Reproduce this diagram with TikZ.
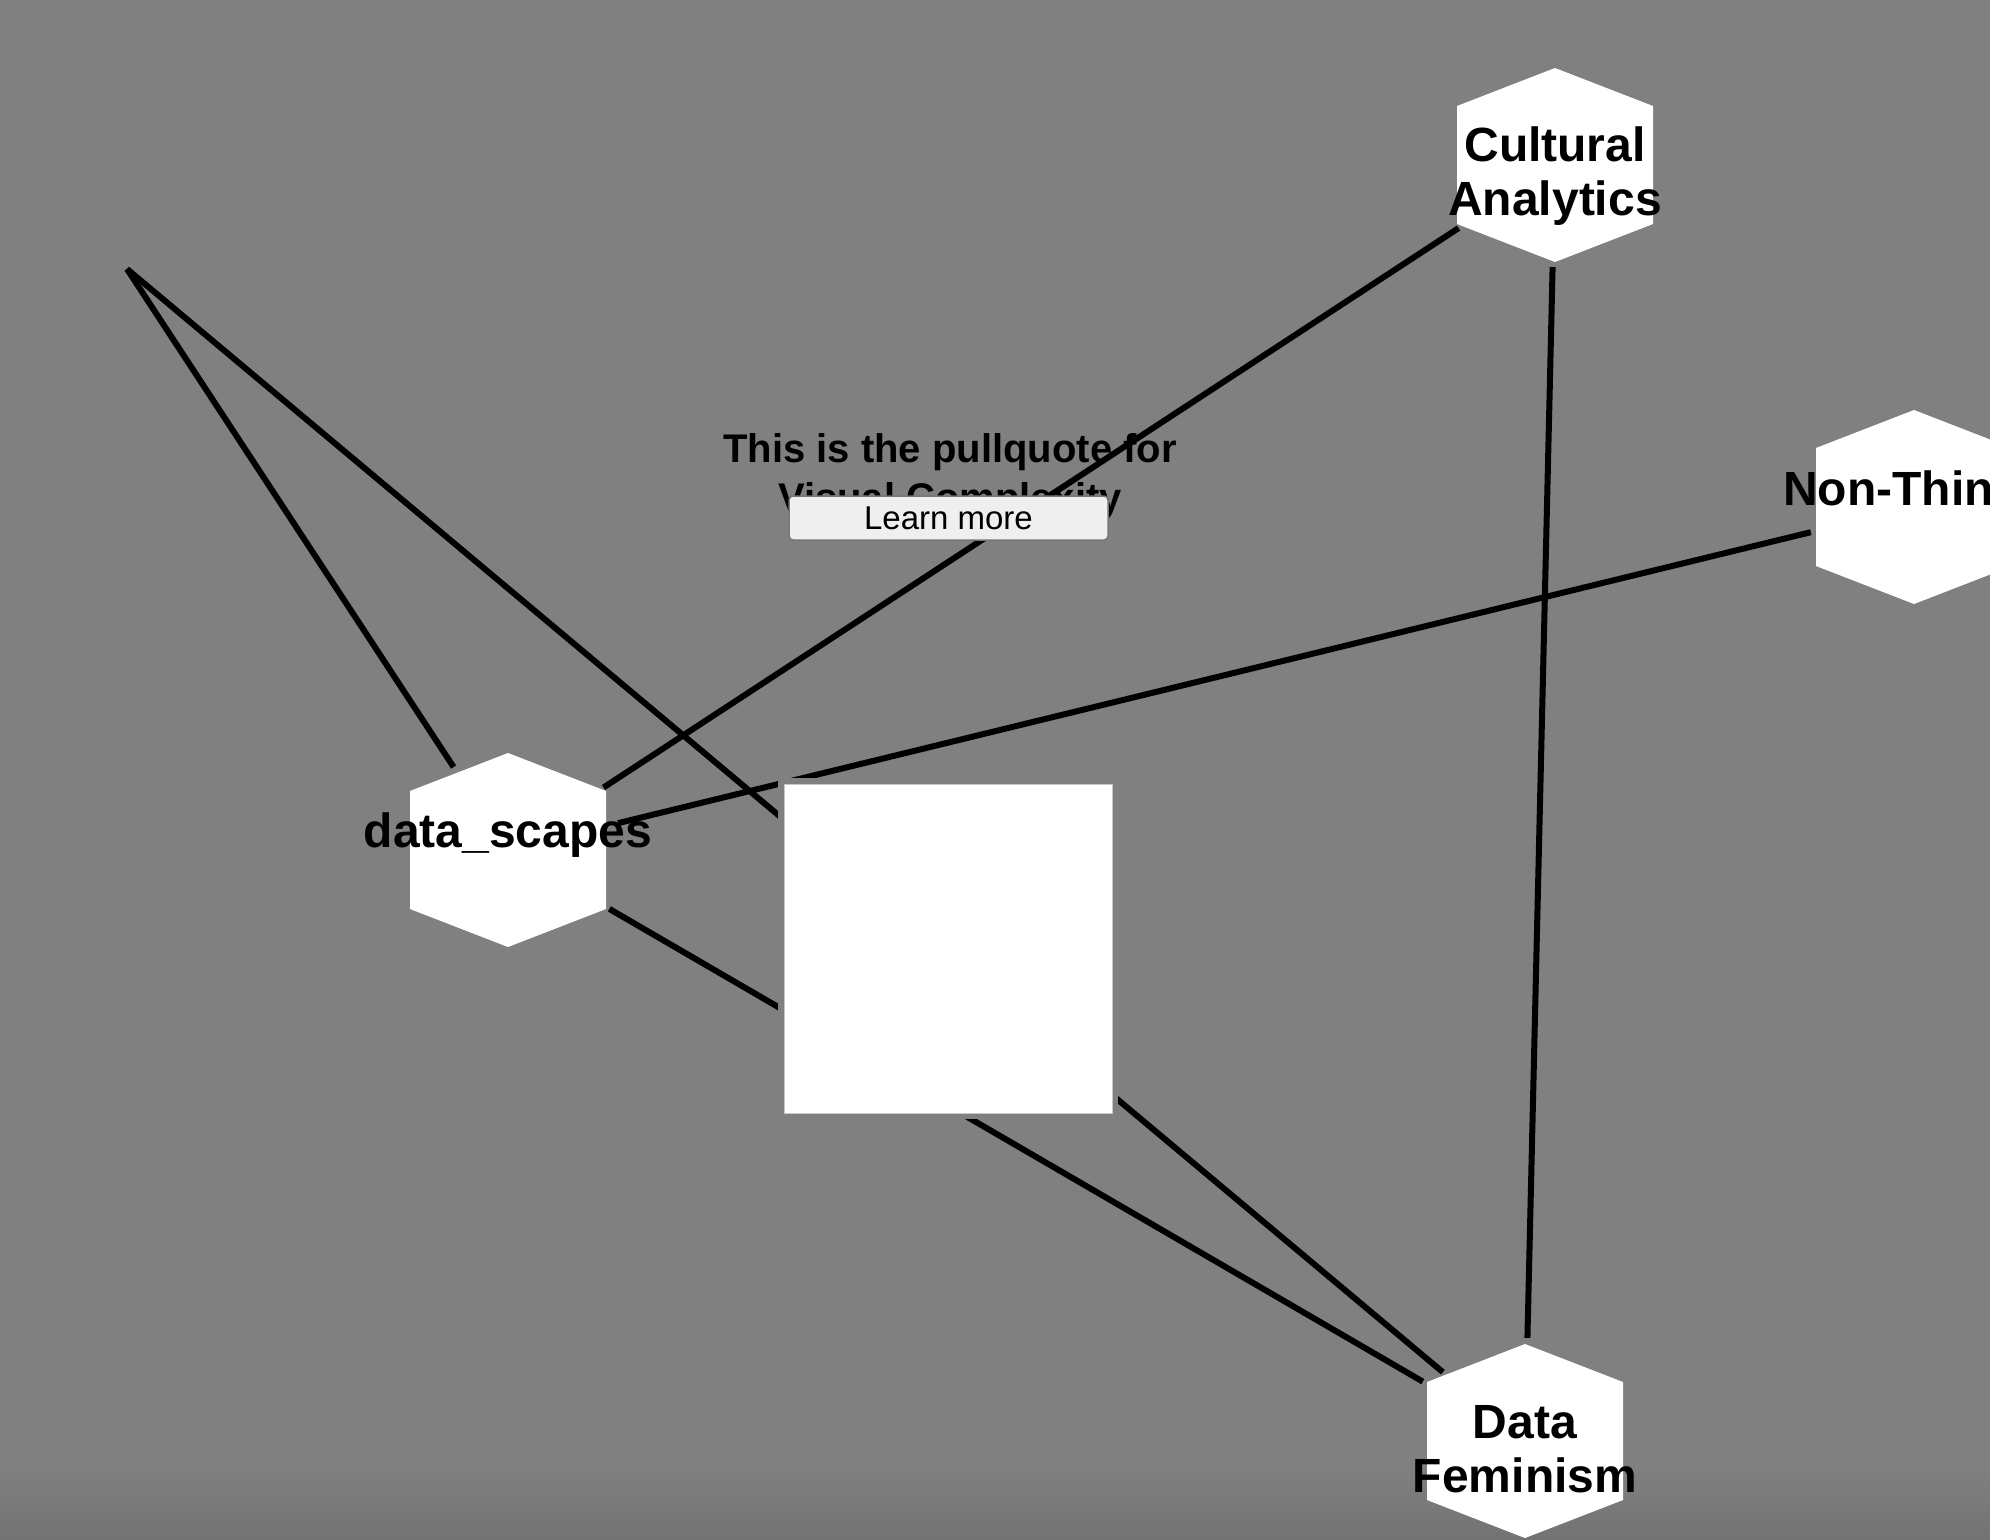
\documentclass[tikz,border=0pt]{standalone}
\usepackage{fontspec}
\setmainfont{Liberation Sans}
\usepackage{tikz}
\usetikzlibrary{calc}

\definecolor{btnfill}{HTML}{EFEFEF}
\definecolor{btnline}{HTML}{767676}
\definecolor{boxline}{HTML}{C8C8C8}

\begin{document}
\begin{tikzpicture}[x=1pt,y=-1pt,
  hub/.style={circle,minimum size=220pt,inner sep=0pt},
  link/.style={line width=6pt,black},
  hexname/.style={font=\fontsize{48}{54}\selectfont\bfseries,align=center,anchor=base,inner sep=0pt}]
\useasboundingbox (0,0) rectangle (1990,1540);
\clip (0,0) rectangle (1990,1540);
\fill[gray] (0,0) rectangle (1990,1540);
\shade[top color=gray,bottom color=gray!90!black] (0,1470) rectangle (1990,1540);
% hubs
\node (ca) at (1555,165) [hub]{};
\node (ds) at (508,850) [hub]{};
\node (nt) at (1914,507) [hub]{};
\node (df) at (1525,1441) [hub]{};
\coordinate (free) at (127,269);
\foreach \h in {ca,ds,nt,df}
  \fill[white] (\h.center) +(0,-97) -- +(98,-59) -- +(98,59) -- +(0,97) -- +(-98,59) -- +(-98,-59) -- cycle;
% links
\draw[link,shorten >=-11pt] (free) -- (ds);
\draw[link,shorten >=-3pt] (free) -- (df);
\draw[link,shorten <=4pt,shorten >=5pt] (ds) -- (ca);
\draw[link,shorten <=3pt,shorten >=-4pt] (ds) -- (nt);
\draw[link,shorten <=7pt,shorten >=8pt] (ds) -- (df);
\draw[link,shorten <=-8pt,shorten >=-7pt] (ca) -- (df);
% image box
\fill[gray] (778,778) rectangle (1118,1119);
\fill[white,draw=boxline] (784,784) rectangle (1112,1113);
% names (base = last line)
\node (calbl) at ($(ca)+(0,50)$) [hexname]{Cultural\\Analytics};
\node (dslbl) at ($(ds)+(0,-3)$) [hexname]{data\_scapes};
\node (dflbl) at ($(df)+(0,51)$) [hexname]{Data\\Feminism};
\node (ntlbl) at (1783,505) [hexname,anchor=base west]{Non-Thin};
% pullquote
\node (quote) at (950,511) [font=\fontsize{40}{49}\selectfont\bfseries,align=center,anchor=base,inner sep=0pt]{This is the pullquote for\\Visual Complexity};
\node (more) at (948.5,518) [draw=btnline,fill=btnfill,rounded corners=4pt,minimum width=319pt,minimum height=44pt,line width=1.5pt,font=\fontsize{33}{40}\selectfont,inner sep=0pt]{Learn more};
\end{tikzpicture}
\end{document}
